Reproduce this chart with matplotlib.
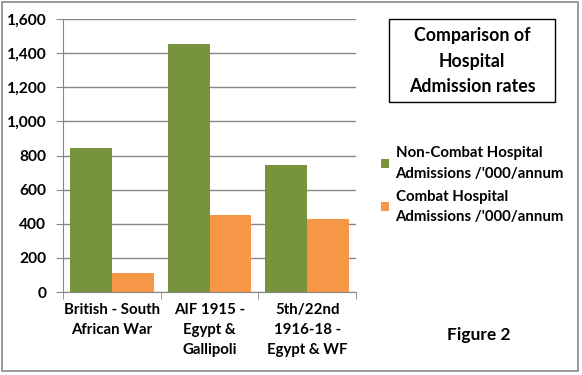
import numpy as np
import matplotlib.pyplot as plt
from matplotlib.patches import Rectangle
from matplotlib.ticker import FuncFormatter

categories = ["British - South\nAfrican War", "AIF 1915 -\nEgypt &\nGallipoli", "5th/22nd\n1916-18 -\nEgypt & WF"]
non_combat = [844, 1453, 744]
combat = [112, 451, 428]
series_names = ["Non-Combat Hospital\nAdmissions /'000/annum", "Combat Hospital\nAdmissions /'000/annum"]

green = "#77933C"
orange = "#F79646"
grey = "#868686"

plt.rcParams['font.family'] = ['Lato', 'DejaVu Sans']
plt.rcParams['font.weight'] = 'bold'

fig = plt.figure(figsize=(5.82, 3.75), dpi=100)
# chart border
fig.patches.append(Rectangle((2 / 582, 4 / 375), 576 / 582, 369 / 375, transform=fig.transFigure,
                             fill=False, edgecolor="#8a8a8a", linewidth=1.2))

ax = fig.add_axes([63 / 582, 83 / 375, 293 / 582, 273 / 375])
x = np.arange(len(categories))
w = 0.43
b1 = ax.bar(x - w / 2, non_combat, w, color=green, zorder=3)
b2 = ax.bar(x + w / 2, combat, w, color=orange, zorder=3)

ax.set_xlim(-0.5, 2.5)
ax.set_ylim(0, 1600)
ax.set_yticks(np.arange(0, 1601, 200))
ax.yaxis.set_major_formatter(FuncFormatter(lambda v, p: f"{int(v):,}"))
ax.grid(axis="y", color=grey, linewidth=1, zorder=0)
ax.set_xticks(x)
ax.set_xticklabels(categories, fontsize=10.8, fontweight="bold", linespacing=1.55)
ax.set_xticks([-0.5, 0.5, 1.5, 2.5], minor=True)
ax.tick_params(axis="x", which="major", length=0, pad=8)
ax.tick_params(axis="x", which="minor", length=5, color=grey)
ax.tick_params(axis="y", length=5, color=grey, labelsize=11.2, pad=7)
for lab in ax.get_yticklabels():
    lab.set_fontweight("bold")
for s in ["top", "right"]:
    ax.spines[s].set_visible(False)
ax.spines["left"].set_color(grey)
ax.spines["bottom"].set_color(grey)

# title box
fig.patches.append(Rectangle((389 / 582, (375 - 102) / 375), 166 / 582, 83 / 375, transform=fig.transFigure,
                             fill=False, edgecolor="black", linewidth=1))
fig.text(472 / 582, (375 - 61) / 375, "Comparison of\nHospital\nAdmission rates", ha="center", va="center",
         fontsize=12.8, fontweight="bold", linespacing=1.6)

# legend
leg = fig.legend([b1, b2], series_names, loc="upper left", bbox_to_anchor=(367 / 582, (375 - 133) / 375),
                 frameon=False, prop={"weight": "bold", "size": 10.8}, handlelength=0.55, handleheight=0.55,
                 handletextpad=0.45, labelspacing=0.6)
for t in leg.get_texts():
    t.set_linespacing(1.55)

fig.text(479 / 582, (375 - 335) / 375, "Figure 2", ha="center", va="center", fontsize=12.5, fontweight="bold")

fig.savefig("out.png", dpi=100)
